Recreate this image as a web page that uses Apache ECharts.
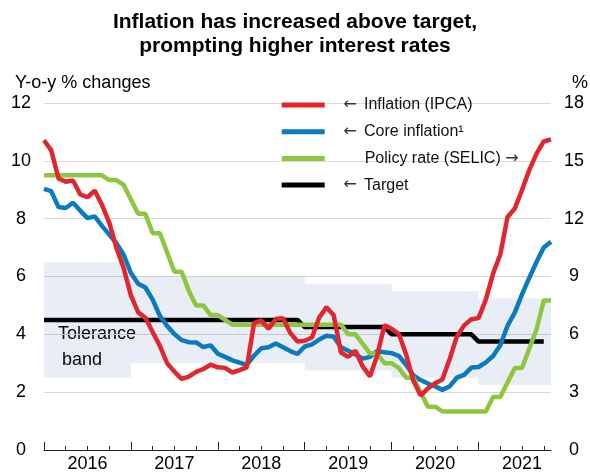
<!DOCTYPE html>
<html>
<head>
<meta charset="utf-8">
<script src="https://cdn.jsdelivr.net/npm/echarts@6/dist/echarts.min.js"></script>
<style>
html,body{margin:0;padding:0;background:#fff;}
#chart{width:590px;height:473px;}
</style>
</head>
<body>
<div id="chart"></div>
<script>
// ---- Data (monthly, Jan 2016 - Nov 2021) ----
const startYear = 2016;
const monthCount = 71;
const years = [2016, 2017, 2018, 2019, 2020, 2021];

// Headline inflation (IPCA), y-o-y %
const ipca = [
  10.71, 10.36, 9.39, 9.28, 9.32, 8.84, 8.74, 8.97, 8.48, 7.87, 6.99, 6.29,
  5.35, 4.76, 4.57, 4.08, 3.60, 3.00, 2.71, 2.46, 2.54, 2.70, 2.80, 2.95,
  2.86, 2.84, 2.68, 2.76, 2.86, 4.39, 4.48, 4.19, 4.53, 4.56, 4.05, 3.75,
  3.78, 3.89, 4.58, 4.94, 4.66, 3.37, 3.22, 3.43, 2.89, 2.54, 3.27, 4.31,
  4.19, 4.01, 3.30, 2.40, 1.88, 2.13, 2.31, 2.44, 3.14, 3.92, 4.31, 4.52,
  4.56, 5.20, 6.10, 6.76, 8.06, 8.35, 8.99, 9.68, 10.25, 10.67, 10.74
];

// Core inflation, y-o-y %
const coreInflation = [
  9.03, 8.95, 8.40, 8.37, 8.55, 8.28, 8.02, 8.08, 7.75, 7.45, 7.15, 6.75,
  6.12, 5.75, 5.62, 5.20, 4.64, 4.29, 4.01, 3.80, 3.73, 3.72, 3.56, 3.62,
  3.33, 3.22, 3.10, 3.02, 2.94, 3.26, 3.52, 3.55, 3.68, 3.55, 3.42, 3.32,
  3.58, 3.65, 3.82, 3.95, 3.92, 3.55, 3.43, 3.30, 3.16, 3.22, 3.42, 3.38,
  3.35, 3.25, 2.95, 2.58, 2.42, 2.30, 2.20, 2.08, 2.20, 2.50, 2.60, 2.85,
  2.87, 3.03, 3.25, 3.62, 4.30, 4.75, 5.38, 5.95, 6.50, 7.00, 7.20
];

// Policy rate (SELIC), %, right axis
const selic = [
  14.25, 14.25, 14.25, 14.25, 14.25, 14.25, 14.25, 14.25, 14.25, 14.00, 14.00, 13.75,
  13.00, 12.25, 12.25, 11.25, 11.25, 10.25, 9.25, 9.25, 8.25, 7.50, 7.50, 7.00,
  7.00, 6.75, 6.50, 6.50, 6.50, 6.50, 6.50, 6.50, 6.50, 6.50, 6.50, 6.50,
  6.50, 6.50, 6.50, 6.50, 6.50, 6.50, 6.00, 6.00, 5.50, 5.00, 5.00, 4.50,
  4.50, 4.25, 3.75, 3.75, 3.00, 2.25, 2.25, 2.00, 2.00, 2.00, 2.00, 2.00,
  2.00, 2.00, 2.75, 2.75, 3.50, 4.25, 4.25, 5.25, 6.25, 7.75, 7.75
];

// Inflation target and tolerance band, by year
const targetByYear = [4.5, 4.5, 4.5, 4.25, 4.0, 3.75];
const bandLowByYear = [2.5, 3.0, 3.0, 2.75, 2.5, 2.25];
const bandHighByYear = [6.5, 6.0, 6.0, 5.75, 5.5, 5.25];
const targetLastIndex = 69; // target series ends Oct 2021

// Axis ticks
const leftTicks = { min: 0, max: 12, interval: 2 };
const rightTicks = { min: 0, max: 18, interval: 3 };

// ---- Build categories and derived series ----
const months = [];
for (let i = 0; i < monthCount; i++) {
  const y = startYear + Math.floor(i / 12);
  const m = (i % 12) + 1;
  months.push(y + '-' + (m < 10 ? '0' + m : m));
}
const target = months.map((_, i) => i <= targetLastIndex ? targetByYear[Math.floor(i / 12)] : null);

const bandAreas = years.map((y, k) => {
  const s = k * 12;
  const e = Math.min((k + 1) * 12, monthCount - 1);
  return [
    { xAxis: months[s], yAxis: bandLowByYear[k] },
    { xAxis: months[e], yAxis: bandHighByYear[k] }
  ];
});

const FONT = '"Liberation Sans", Arial, sans-serif';
const ARROW_FONT = '"DejaVu Sans", sans-serif';
const COLORS = { red: '#E1262D', blue: '#0B7BC1', green: '#8DC63F', black: '#000000' };

const chart = echarts.init(document.getElementById('chart'), null, { renderer: 'canvas' });

const option = {
  backgroundColor: '#ffffff',
  animation: false,
  textStyle: { fontFamily: FONT },
  title: {
    text: 'Inflation has increased above target,\nprompting higher interest rates',
    left: 'center',
    top: 10,
    padding: 0,
    textStyle: { fontFamily: FONT, fontSize: 21, fontWeight: 'bold', color: '#000', lineHeight: 24 }
  },
  grid: { left: 44, right: 39, top: 103, bottom: 22, containLabel: false },
  legend: {
    orient: 'vertical',
    left: 281.7,
    top: 95,
    padding: 0,
    itemWidth: 43,
    itemHeight: 5,
    itemGap: 6.7,
    icon: 'rect',
    selectedMode: false,
    data: ['Inflation (IPCA)', 'Core inflation¹', 'Policy rate (SELIC)', 'Target'],
    formatter: function (name) {
      if (name === 'Policy rate (SELIC)') return '{wide| }' + name + ' {arr|→}';
      return '{sp| }{arr|←}{gap| }' + name;
    },
    textStyle: {
      fontFamily: FONT, fontSize: 16, color: '#111', lineHeight: 20,
      rich: {
        sp: { width: 13.6, fontSize: 16, fontFamily: FONT },
        arr: { fontSize: 16, fontFamily: ARROW_FONT, color: '#333' },
        gap: { width: 7.3, fontSize: 16, fontFamily: FONT },
        wide: { width: 35, fontSize: 16, fontFamily: FONT }
      }
    }
  },
  xAxis: [
    {
      type: 'category',
      data: months,
      boundaryGap: false,
      position: 'bottom',
      axisLine: { show: true, onZero: false, lineStyle: { color: '#222', width: 1 } },
      axisTick: {
        show: true, inside: true, length: 4,
        interval: function (index) { return index % 3 === 0; },
        lineStyle: { color: '#222', width: 1 }
      },
      axisLabel: {
        show: true,
        interval: function (index) { return index % 12 === 6; },
        formatter: function (v) { return v.slice(0, 4); },
        fontSize: 18, color: '#000', fontFamily: FONT, margin: 5
      },
      splitLine: { show: false }
    },
    {
      type: 'category',
      data: months,
      boundaryGap: false,
      position: 'bottom',
      axisLine: { show: false },
      axisTick: {
        show: true, inside: true, length: 8,
        interval: function (index) { return index % 12 === 0; },
        lineStyle: { color: '#222', width: 1 }
      },
      axisLabel: { show: false },
      splitLine: { show: false }
    }
  ],
  yAxis: [
    {
      type: 'value',
      min: leftTicks.min, max: leftTicks.max, interval: leftTicks.interval,
      position: 'left',
      axisLine: { show: false },
      axisTick: { show: false },
      axisLabel: { fontSize: 18, color: '#000', fontFamily: FONT, align: 'center', margin: 23 },
      splitLine: { show: true, lineStyle: { color: '#d9d9d9', width: 1 } }
    },
    {
      type: 'value',
      min: rightTicks.min, max: rightTicks.max, interval: rightTicks.interval,
      position: 'right',
      axisLine: { show: false },
      axisTick: { show: false },
      axisLabel: { fontSize: 18, color: '#000', fontFamily: FONT, align: 'center', margin: 23 },
      splitLine: { show: false }
    }
  ],
  graphic: [
    { type: 'text', left: 15, top: 74, z: 0,
      style: { text: 'Y-o-y % changes', fontSize: 18, fontFamily: FONT, fill: '#000' } },
    { type: 'text', left: 572, top: 74, z: 0,
      style: { text: '%', fontSize: 18, fontFamily: FONT, fill: '#000' } },
    { type: 'text', left: 58, top: 325, z: 0, silent: true,
      style: { text: 'Tolerance', fontSize: 18, fontFamily: FONT, fill: '#000' } },
    { type: 'text', left: 62, top: 351, z: 0, silent: true,
      style: { text: 'band', fontSize: 18, fontFamily: FONT, fill: '#000' } }
  ],
  series: [
    {
      name: 'Tolerance band',
      type: 'line',
      data: months.map(() => null),
      symbol: 'none',
      z: 1,
      silent: true,
      markArea: {
        silent: true,
        itemStyle: { color: 'rgba(35,75,155,0.1)' },
        data: bandAreas
      }
    },
    {
      name: 'Target', type: 'line', data: target, symbol: 'none', z: 2,
      lineStyle: { width: 4.5, color: COLORS.black }, itemStyle: { color: COLORS.black }
    },
    {
      name: 'Core inflation¹', type: 'line', data: coreInflation, symbol: 'none', z: 3,
      lineStyle: { width: 4.5, color: COLORS.blue }, itemStyle: { color: COLORS.blue }
    },
    {
      name: 'Policy rate (SELIC)', type: 'line', data: selic, yAxisIndex: 1, symbol: 'none', z: 4,
      lineStyle: { width: 4.5, color: COLORS.green }, itemStyle: { color: COLORS.green }
    },
    {
      name: 'Inflation (IPCA)', type: 'line', data: ipca, symbol: 'none', z: 5,
      lineStyle: { width: 4.5, color: COLORS.red }, itemStyle: { color: COLORS.red }
    }
  ]
};

chart.setOption(option);
</script>
</body>
</html>
